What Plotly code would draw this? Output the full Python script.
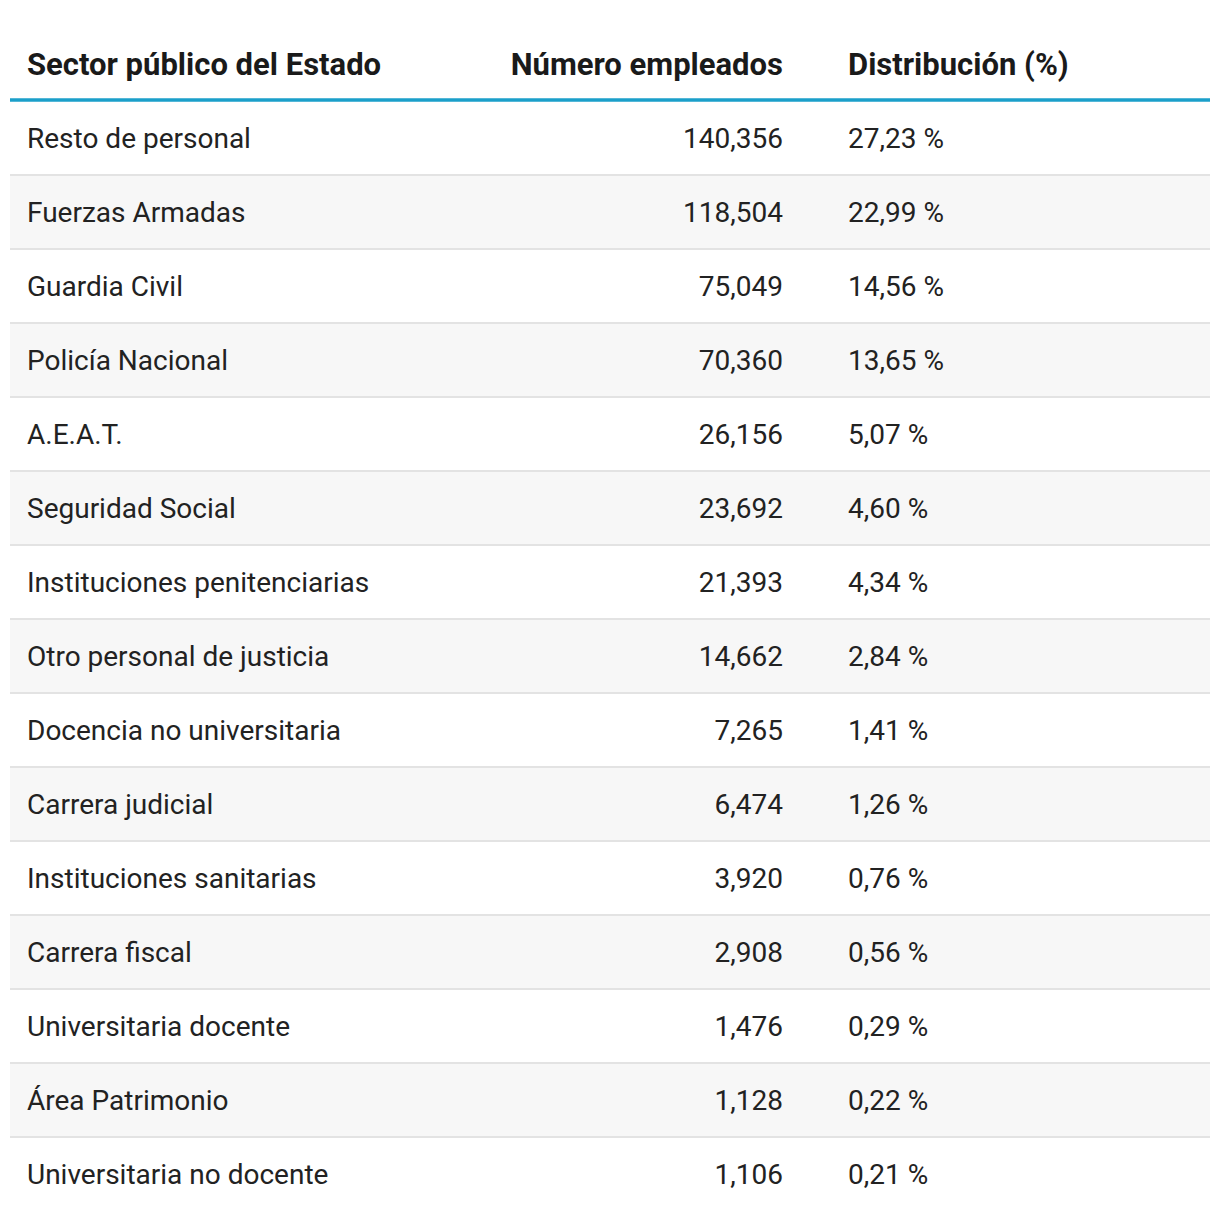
import plotly.graph_objects as go

sectors = ["Resto de personal", "Fuerzas Armadas", "Guardia Civil", "Policía Nacional",
           "A.E.A.T.", "Seguridad Social", "Instituciones penitenciarias",
           "Otro personal de justicia", "Docencia no universitaria", "Carrera judicial",
           "Instituciones sanitarias", "Carrera fiscal", "Universitaria docente",
           "Área Patrimonio", "Universitaria no docente"]
employees = [140356, 118504, 75049, 70360, 26156, 23692, 21393, 14662, 7265, 6474,
             3920, 2908, 1476, 1128, 1106]
distribution = [27.23, 22.99, 14.56, 13.65, 5.07, 4.60, 4.34, 2.84, 1.41, 1.26,
                0.76, 0.56, 0.29, 0.22, 0.21]
headers = ["Sector público del Estado", "Número empleados", "Distribución (%)"]

# ---- layout constants (pixel-like x axis, row-unit y axis) ----
W = H = 1220
ROW_PX = 74.0
FIRST_TEXT_PX = 140.5          # pixel anchor of first-row text
BOUND_OFF = 39.5 / ROW_PX      # row boundary offset above text anchor
HEADER_Y = (67.5 - FIRST_TEXT_PX) / ROW_PX
X_LEFT, X_RIGHT = 10, 1210
X_COL1, X_COL2, X_COL3 = 27, 783, 848

n = len(sectors)
rows = list(range(n))
emp_txt = [f"{v:,}" for v in employees]
dist_txt = [f"{v:.2f}".replace(".", ",") + " %" for v in distribution]

body_font = dict(family="Roboto", size=28, color="#222222")
head_font = dict(family="Roboto", size=31, color="#1a1a1a")

fig = go.Figure()
fig.add_trace(go.Scatter(x=[X_COL1] * n, y=rows, text=sectors, mode="text",
                         textposition="middle right", textfont=body_font, hoverinfo="skip"))
fig.add_trace(go.Scatter(x=[X_COL2] * n, y=rows, text=emp_txt, mode="text",
                         textposition="middle left", textfont=body_font, hoverinfo="skip"))
fig.add_trace(go.Scatter(x=[X_COL3] * n, y=rows, text=dist_txt, mode="text",
                         textposition="middle right", textfont=body_font, hoverinfo="skip"))
# header
fig.add_trace(go.Scatter(x=[X_COL1, X_COL2, X_COL3], y=[HEADER_Y] * 3,
                         text=[f"<b>{h}</b>" for h in headers], mode="text",
                         textposition=["middle right", "middle left", "middle right"],
                         textfont=head_font, hoverinfo="skip"))

shapes = []
for i in rows:
    if i % 2 == 1:
        shapes.append(dict(type="rect", xref="x", yref="y", layer="below",
                           x0=X_LEFT, x1=X_RIGHT, y0=i - BOUND_OFF, y1=i - BOUND_OFF + 1,
                           fillcolor="#f7f7f7", line_width=0))
for i in range(1, n):
    shapes.append(dict(type="line", xref="x", yref="y", layer="below",
                       x0=X_LEFT, x1=X_RIGHT, y0=i - BOUND_OFF, y1=i - BOUND_OFF,
                       line=dict(color="#e3e3e3", width=2)))
shapes.append(dict(type="line", xref="x", yref="y", layer="below",
                   x0=X_LEFT, x1=X_RIGHT, y0=-BOUND_OFF - 0.012, y1=-BOUND_OFF - 0.012,
                   line=dict(color="#1b9fca", width=3.5)))

fig.update_layout(
    width=W, height=H, margin=dict(l=0, r=0, t=0, b=0, pad=0),
    paper_bgcolor="#ffffff", plot_bgcolor="#ffffff", showlegend=False,
    shapes=shapes,
    xaxis=dict(range=[0, W], visible=False, fixedrange=True),
    yaxis=dict(range=[(H - FIRST_TEXT_PX) / ROW_PX, -FIRST_TEXT_PX / ROW_PX],
               visible=False, fixedrange=True),
)

fig.write_html("out.html", config={"displayModeBar": False},
               post_script="document.body.style.margin='0';")
